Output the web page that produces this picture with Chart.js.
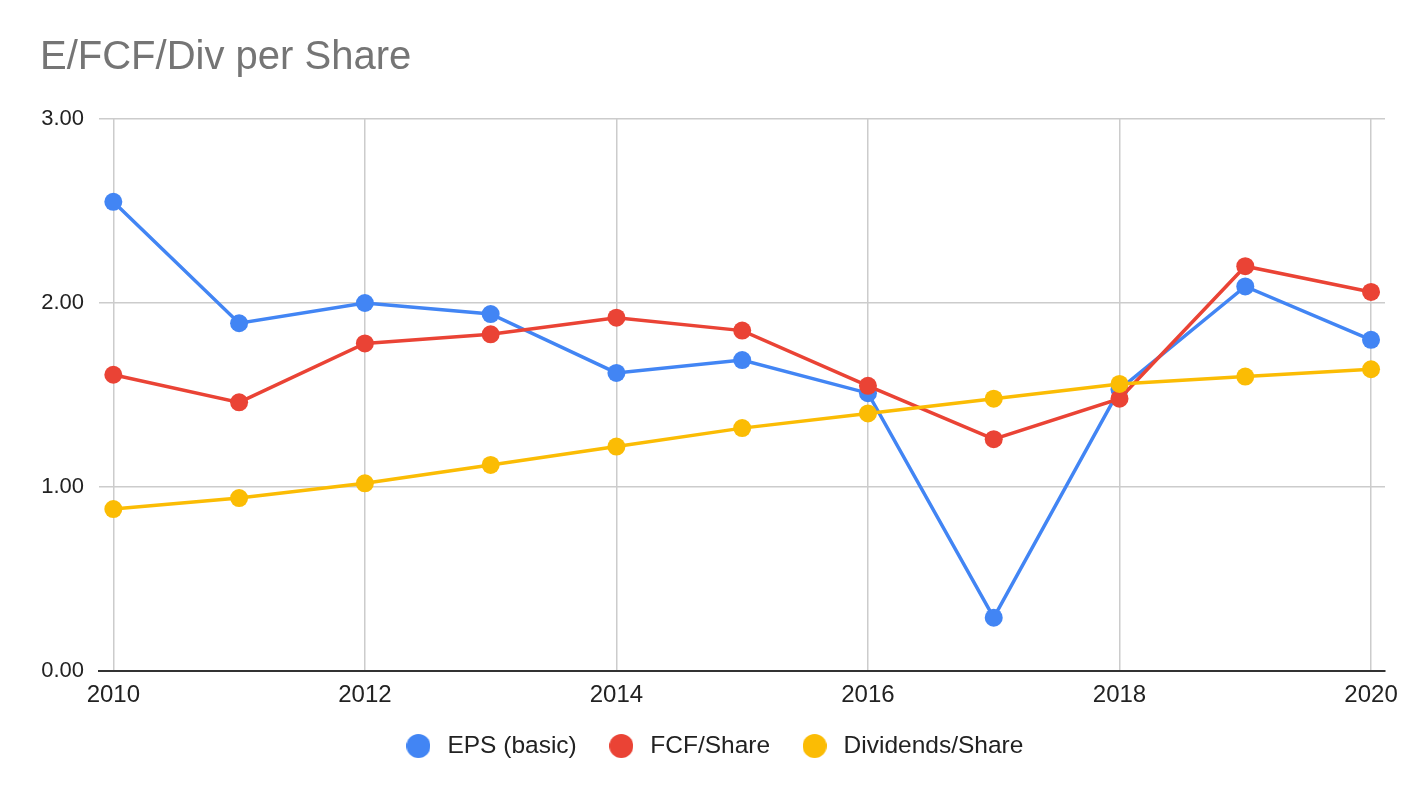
<!DOCTYPE html>
<html>
<head>
<meta charset="utf-8">
<title>E/FCF/Div per Share</title>
<script src="https://cdn.jsdelivr.net/npm/chart.js@4.4.1/dist/chart.umd.min.js"></script>
<style>
  html, body { margin: 0; padding: 0; background: #ffffff; }
  #wrap { width: 1424px; height: 798px; position: relative; }
</style>
</head>
<body>
<div id="wrap"><canvas id="shareChart"></canvas></div>
<script>
// Values
const years = [2010, 2011, 2012, 2013, 2014, 2015, 2016, 2017, 2018, 2019, 2020];
const epsBasic = [2.55, 1.89, 2.00, 1.94, 1.62, 1.69, 1.51, 0.29, 1.53, 2.09, 1.80];
const fcfPerShare = [1.61, 1.46, 1.78, 1.83, 1.92, 1.85, 1.55, 1.26, 1.48, 2.20, 2.06];
const divPerShare = [0.88, 0.94, 1.02, 1.12, 1.22, 1.32, 1.40, 1.48, 1.56, 1.60, 1.64];
const xTickYears = [2010, 2012, 2014, 2016, 2018, 2020];
const seriesNames = ['EPS (basic)', 'FCF/Share', 'Dividends/Share'];

const blue = '#4285F4';
const red = '#EA4335';
const yellow = '#FBBC04';
const fontFamily = 'Liberation Sans, Arial, sans-serif';

/**
 * Builds a line dataset from one series of values.
 */
function makeSeries(label, values, color) {
  return {
    label: label,
    data: values.map((v, i) => ({ x: years[i], y: v })),
    borderColor: color,
    backgroundColor: color,
    pointBackgroundColor: color,
    pointBorderColor: color,
    borderWidth: 3.5,
    pointRadius: 9,
    pointBorderWidth: 0,
    pointHoverRadius: 9,
    tension: 0,
    clip: false
  };
}

// Small canvas dot used as the legend marker (lets the gap to the text be wider)
function makeDot(color) {
  const c = document.createElement('canvas');
  c.width = 24;
  c.height = 24;
  const g = c.getContext('2d');
  g.fillStyle = color;
  g.beginPath();
  g.arc(12, 12, 12, 0, Math.PI * 2);
  g.fill();
  return c;
}

// First dataset is drawn on top, so list them in reverse and flip the legend
const datasets = [
  makeSeries(seriesNames[2], divPerShare, yellow),
  makeSeries(seriesNames[1], fcfPerShare, red),
  makeSeries(seriesNames[0], epsBasic, blue)
];

const ctx = document.getElementById('shareChart').getContext('2d');
new Chart(ctx, {
  type: 'line',
  data: { datasets: datasets },
  options: {
    responsive: true,
    maintainAspectRatio: false,
    animation: false,
    layout: {
      padding: { left: 40, right: 39, top: 0, bottom: 29.75 }
    },
    plugins: {
      title: {
        display: true,
        text: 'E/FCF/Div per Share',
        align: 'start',
        color: '#757575',
        font: { family: fontFamily, size: 40, weight: 'normal' },
        padding: { top: 34, bottom: 37 }
      },
      legend: {
        position: 'bottom',
        reverse: true,
        labels: {
          usePointStyle: true,
          pointStyleWidth: 33.5,
          boxHeight: 24,
          padding: 27.75,
          color: '#222222',
          font: { family: fontFamily, size: 24.5 },
          generateLabels: chart => {
            const items = Chart.defaults.plugins.legend.labels.generateLabels(chart);
            items.forEach(item => {
              item.pointStyle = makeDot(item.fillStyle);
              item.lineWidth = 0;
            });
            return items;
          }
        }
      },
      tooltip: { enabled: false }
    },
    scales: {
      x: {
        type: 'linear',
        min: 2009.886,
        max: 2020.111,
        afterBuildTicks: scale => {
          scale.ticks = xTickYears.map(y => ({ value: y }));
        },
        afterFit: scale => { scale.height = 35; },
        ticks: {
          padding: 10,
          color: '#222222',
          maxRotation: 0,
          autoSkip: false,
          font: { family: fontFamily, size: 24 },
          callback: v => String(v)
        },
        grid: { color: '#cccccc', lineWidth: 1.5, drawTicks: false },
        border: { display: true, color: '#333333', width: 2 }
      },
      y: {
        min: 0,
        max: 3,
        afterFit: scale => { scale.width = 59; },
        ticks: {
          stepSize: 1,
          padding: 15,
          color: '#222222',
          font: { family: fontFamily, size: 22 },
          callback: v => v.toFixed(2)
        },
        grid: { color: '#cccccc', lineWidth: 1.5, drawTicks: false },
        border: { display: false }
      }
    }
  }
});
</script>
</body>
</html>
